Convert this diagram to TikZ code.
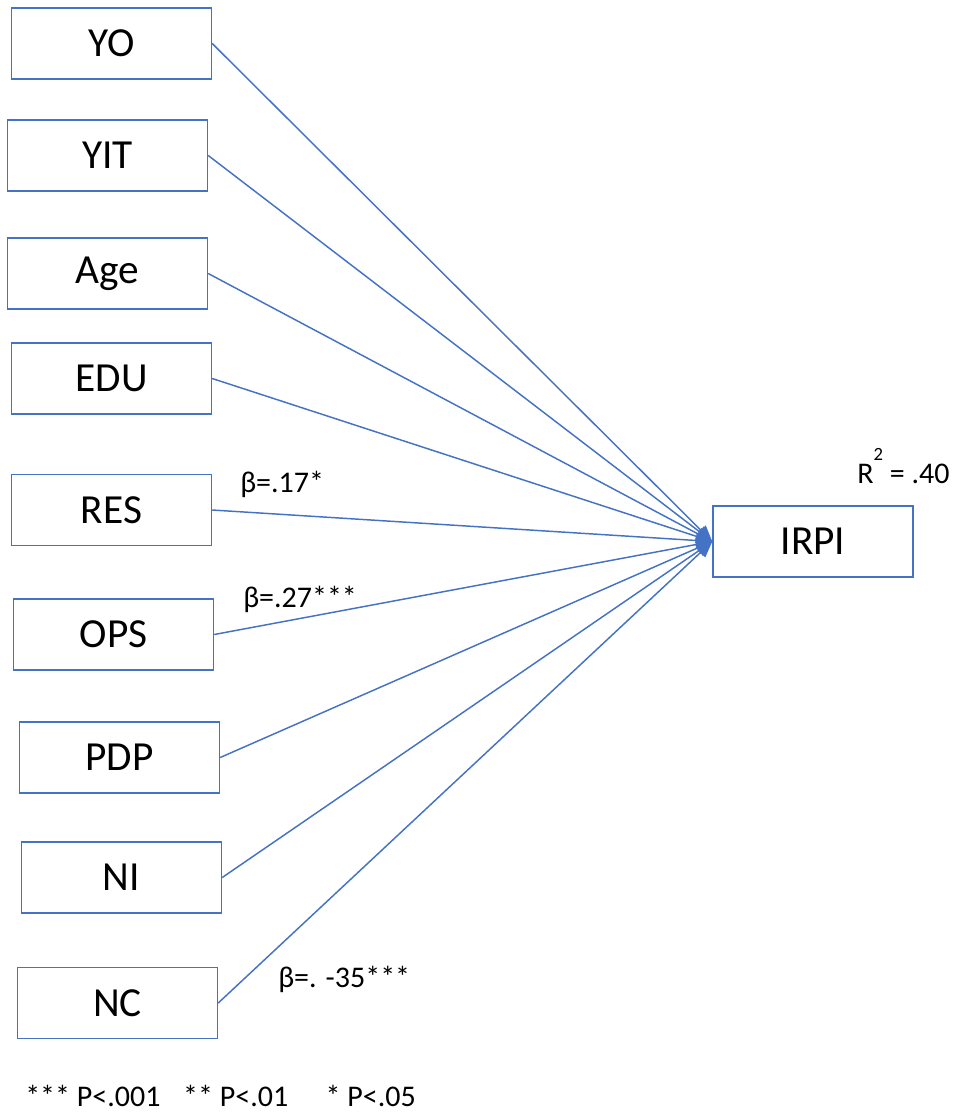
\documentclass[tikz,border=0pt]{standalone}
\usepackage{fontspec}
\setmainfont{Carlito}
\usepackage{tikz}
\usetikzlibrary{arrows.meta}
\definecolor{linkblue}{RGB}{68,114,196}

\begin{document}
\begin{tikzpicture}[x=0.75pt,y=-0.75pt,
    varbox/.style={draw=linkblue,line width=1.1pt,minimum width=150pt,minimum height=53pt,inner sep=0pt,font=\fontsize{31}{37}\selectfont},
    effect/.style={draw=linkblue,line width=1.1pt,-{Triangle[length=12pt,width=10pt]}},
    betalabel/.style={anchor=base west,inner sep=0pt,font=\fontsize{22.5}{27}\selectfont}]
   \useasboundingbox (0,0) rectangle (959,1115);

   % predictors
   \node[varbox] (yo)  at (111.5,43.5)  {YO};
   \node[varbox] (yit) at (107.5,155.5) {YIT};
   \node[varbox] (age) at (107.5,273.5) {Age};
   \node[varbox] (edu) at (111.5,378.5) {EDU};
   \node[varbox] (res) at (111.5,510)   {RES};
   \node[varbox] (ops) at (113.5,634.5) {OPS};
   \node[varbox] (pdp) at (119.5,757.5) {PDP};
   \node[varbox] (ni)  at (121.5,877.5) {NI};
   \node[varbox] (nc)  at (117.5,1003)  {NC};

   % outcome
   \node[varbox] (irpi) at (813,541.5) {IRPI};

   \foreach \v in {yo,yit,age,edu,res,ops,pdp,ni,nc}
      \draw[effect] (\v.east) -- (irpi.west);

   \node[betalabel] (bres) at (240,492) {β=.17*};
   \node[betalabel] (bops) at (243,607) {β=.27***};
   \node[betalabel] (bnc)  at (278,987) {β=. -35***};
   \node[betalabel] (rsq)  at (857,483) {R\raisebox{0.75em}{\fontsize{14}{16}\selectfont 2} = .40};

   \node[betalabel] (note) at (25,1106) {*** P<.001\hspace{17pt}** P<.01\hspace{28pt}* P<.05};
\end{tikzpicture}
\end{document}
